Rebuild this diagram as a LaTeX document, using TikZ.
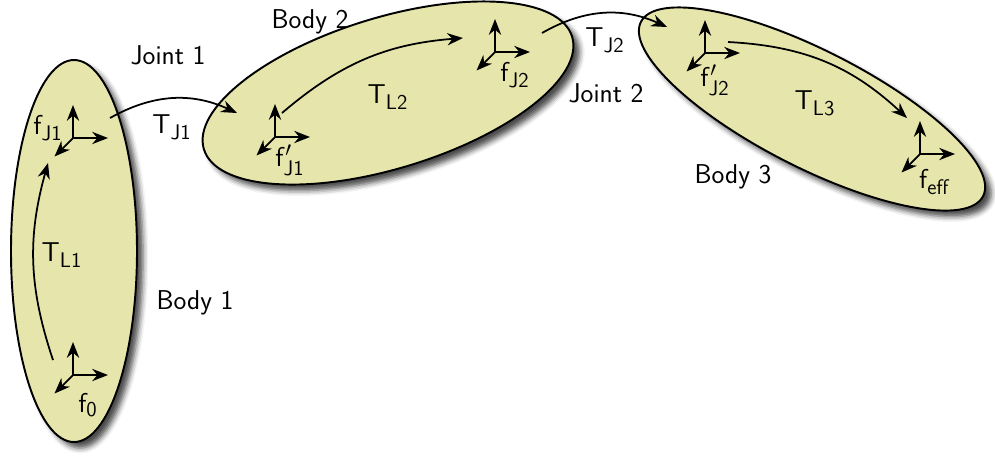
\documentclass[tikz,border=0pt]{standalone}
\usepackage{fix-cm}
\usepackage{amsmath}
\usepackage{tikz}
\usetikzlibrary{arrows.meta, shapes.geometric, shadows.blur}
\DeclareMathSizes{15.5}{15.5}{12}{10}

\begin{document}
\begin{tikzpicture}[
  every node/.style={font=\sffamily\fontsize{15.5}{18}\selectfont},
  body/.style={ellipse, draw, line width=1.1pt, fill=bodyfill,
    blur shadow={shadow xshift=3.5pt, shadow yshift=-3.5pt, shadow blur radius=3pt, shadow opacity=70}},
  arr/.style={-{Stealth[length=9pt, width=7pt]}, line width=1pt},
  triad/.pic={
    \draw[arr] (0,0) -- (0,0.66);
    \draw[arr] (0,0) -- (0.7,0);
    \draw[arr] (0,0) -- (-0.37,-0.37);
  }
]
  \definecolor{bodyfill}{RGB}{230,230,172}
  \useasboundingbox (0,0) rectangle (19.9,-9.14);

  % bodies
  \node[body, minimum width=2.52cm, minimum height=7.64cm] (B1) at (1.48,-5.02) {};
  \node[body, minimum width=7.7cm, minimum height=3.02cm, rotate=17] (B2) at (7.76,-1.86) {};
  \node[body, minimum width=7.68cm, minimum height=2.34cm, rotate=-27] (B3) at (16.24,-2.18) {};

  % frames
  \coordinate (F0) at (1.46,-7.5);
  \coordinate (FJ1) at (1.46,-2.76);
  \coordinate (FJ1p) at (5.5,-2.74);
  \coordinate (FJ2) at (9.9,-1.04);
  \coordinate (FJ2p) at (14.1,-1.06);
  \coordinate (Feff) at (18.4,-3.08);
  \pic at (F0) {triad};
  \pic at (FJ1) {triad};
  \pic at (FJ1p) {triad};
  \pic at (FJ2) {triad};
  \pic at (FJ2p) {triad};
  \pic at (Feff) {triad};

  \node (l0) at (1.76,-8.1) {$\mathsf{f}_{\mathsf{0}}$};
  \node (lJ1) at (0.96,-2.56) {$\mathsf{f}_{\mathsf{J1}}$};
  \node (lJ1p) at (5.8,-3.2) {$\mathsf{f}'_{\mathsf{J1}}$};
  \node (lJ2) at (10.3,-1.5) {$\mathsf{f}_{\mathsf{J2}}$};
  \node (lJ2p) at (14.3,-1.6) {$\mathsf{f}'_{\mathsf{J2}}$};
  \node (leff) at (18.7,-3.64) {$\mathsf{f}_{\mathsf{eff}}$};

  % transforms
  \coordinate (L1s) at (1.06,-7.2);
  \coordinate (L1e) at (0.96,-3.26);
  \coordinate (J1s) at (2.2,-2.36);
  \coordinate (J1e) at (4.74,-2.26);
  \coordinate (L2s) at (5.64,-2.26);
  \coordinate (L2e) at (9.26,-0.76);
  \coordinate (J2s) at (10.84,-0.66);
  \coordinate (J2e) at (13.34,-0.54);
  \coordinate (L3s) at (14.56,-0.84);
  \coordinate (L3e) at (18.14,-2.36);
  \draw[arr] (L1s) to[bend left=17] (L1e);
  \draw[arr] (J1s) to[bend left=27] (J1e);
  \draw[arr] (L2s) to[bend left=18] (L2e);
  \draw[arr] (J2s) to[bend left=27] (J2e);
  \draw[arr] (L3s) to[bend left=20] (L3e);

  \node (tL1) at (1.24,-5.1) {$\mathsf{T}_{\mathsf{L1}}$};
  \node (tJ1) at (3.44,-2.54) {$\mathsf{T}_{\mathsf{J1}}$};
  \node (tL2) at (7.76,-1.94) {$\mathsf{T}_{\mathsf{L2}}$};
  \node (tJ2) at (12.1,-0.8) {$\mathsf{T}_{\mathsf{J2}}$};
  \node (tL3) at (16.3,-2.06) {$\mathsf{T}_{\mathsf{L3}}$};

  % names
  \node (n1) at (3.9,-6.06) {Body 1};
  \node (n2) at (6.2,-0.44) {Body 2};
  \node (n3) at (14.66,-3.54) {Body 3};
  \node (j1) at (3.36,-1.1) {Joint 1};
  \node (j2) at (12.12,-1.86) {Joint 2};
\end{tikzpicture}
\end{document}
